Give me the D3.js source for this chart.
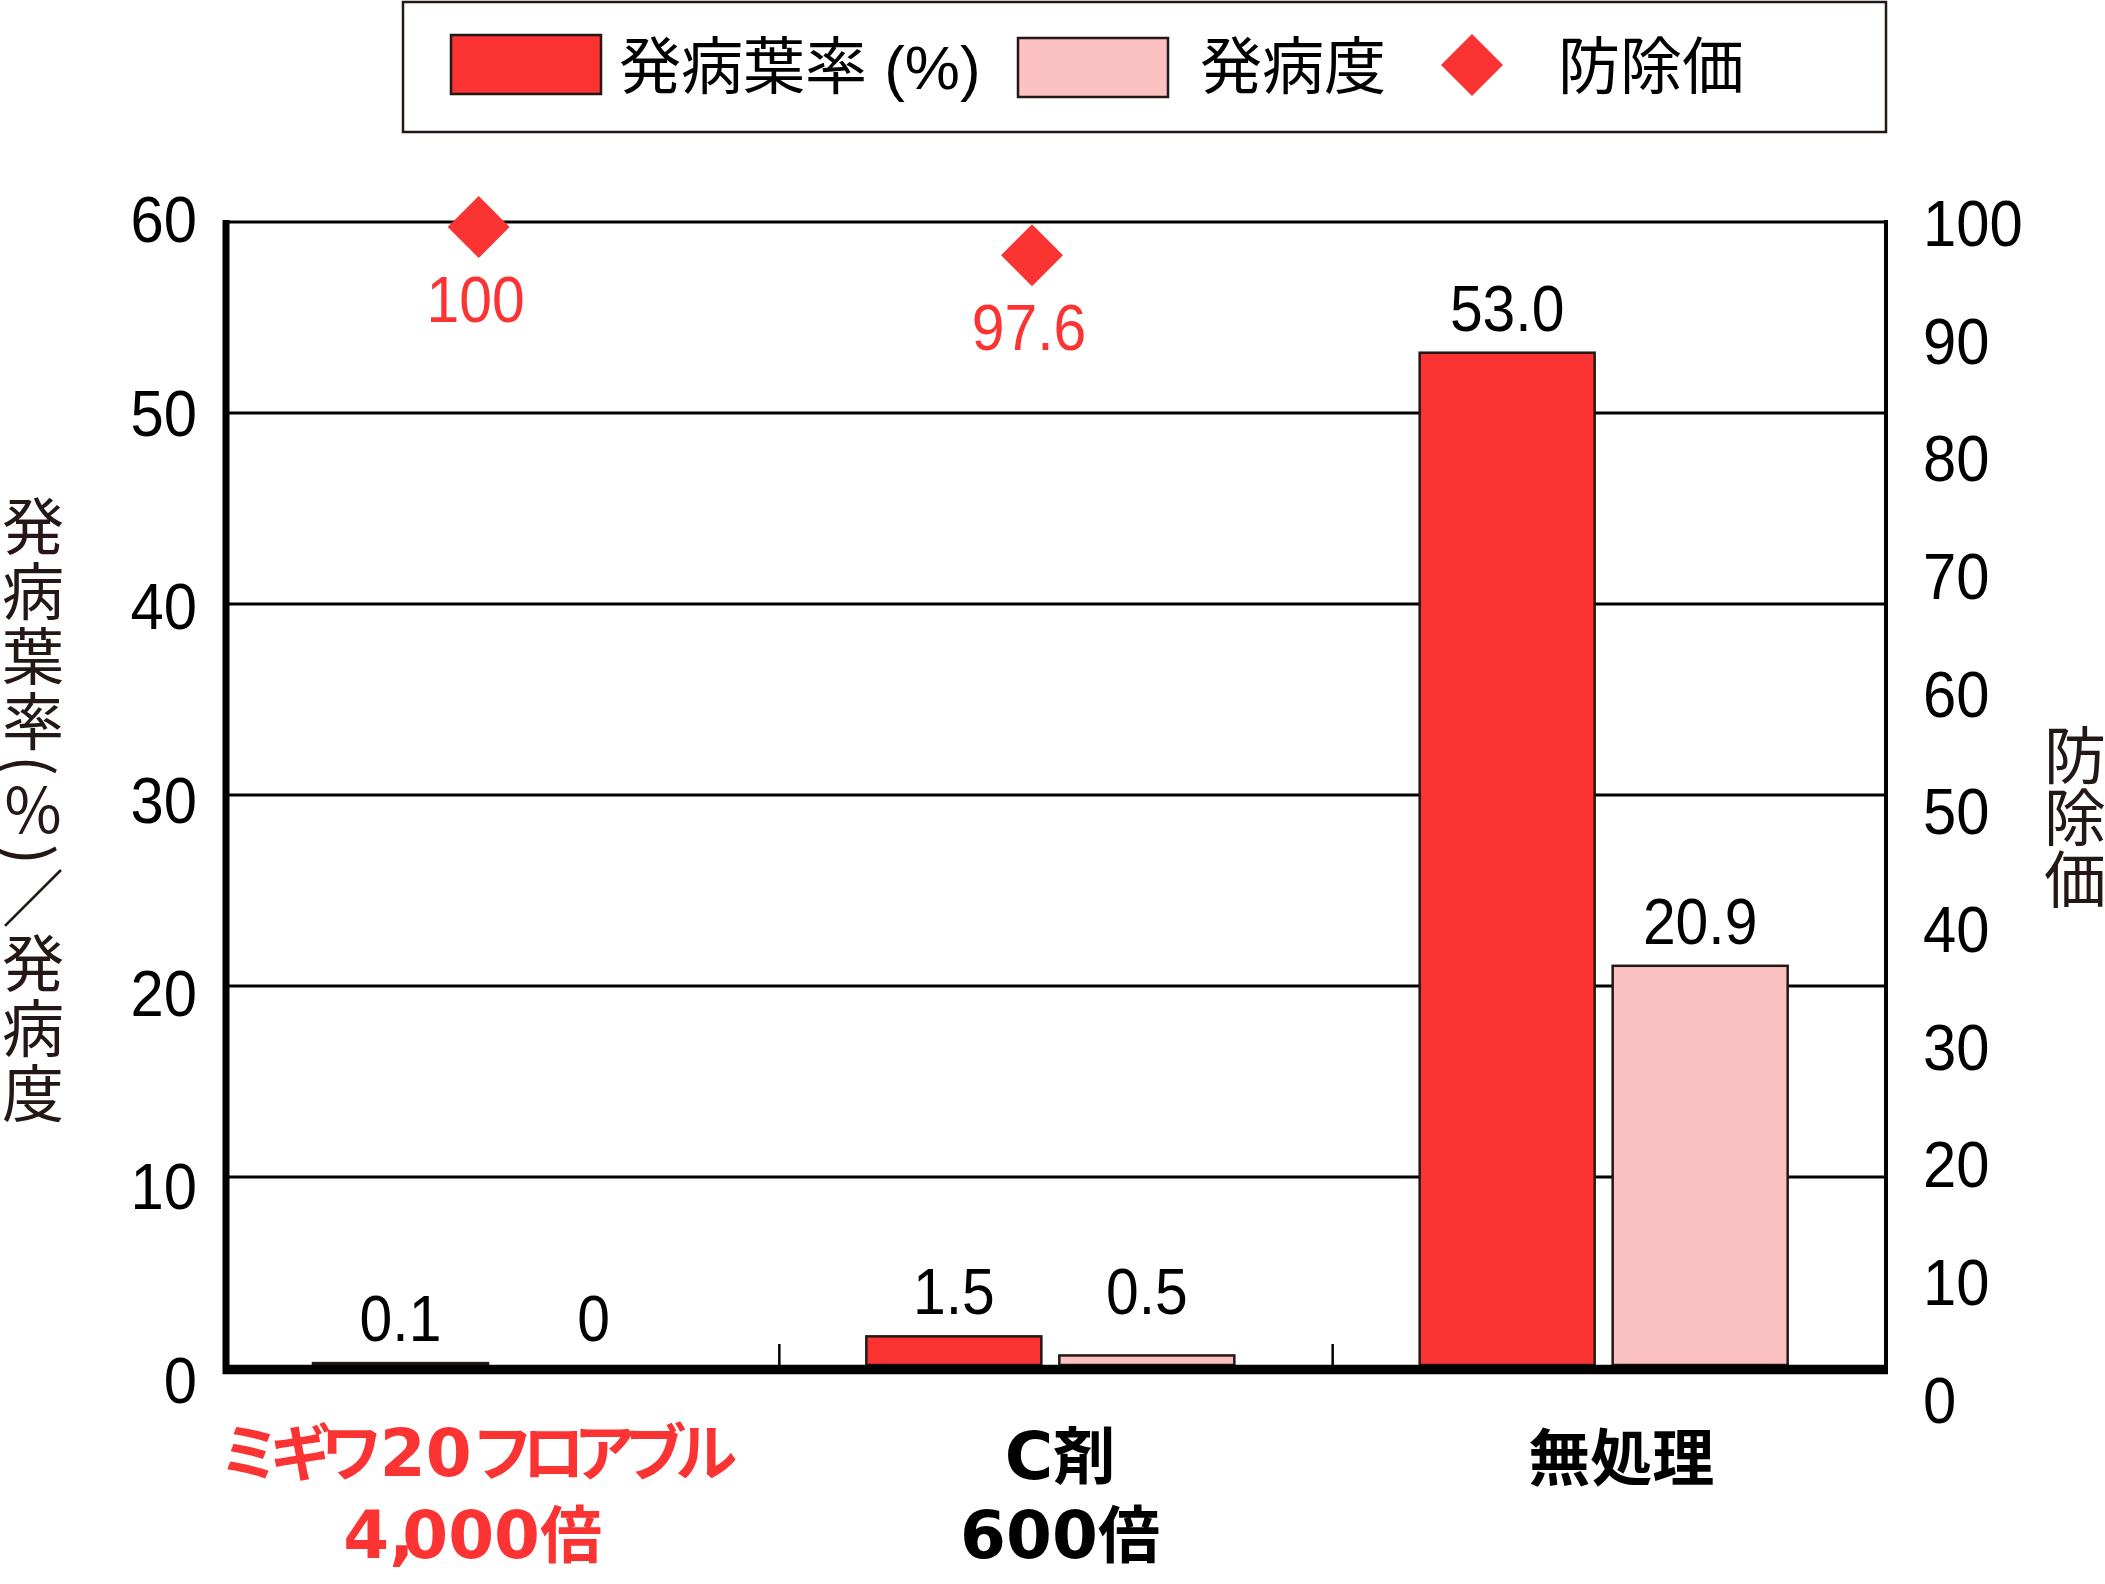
<!DOCTYPE html>
<html><head><meta charset="utf-8">
<script src="https://cdn.jsdelivr.net/npm/d3@7"></script>
<style>body{margin:0;background:#fff}svg{display:block}</style>
</head><body>
<svg id="chart" width="2105" height="1584"></svg>
<script>
// ---------------- data ----------------
const categories = ["ミギワ20フロアブル 4,000倍", "C剤 600倍", "無処理"];
const categoryLines = [["ミギワ20フロアブル", "4,000倍"], ["C剤", "600倍"], ["無処理"]];
const seriesNames = ["発病葉率 (%)", "発病度"];
const incidence = [0.1, 1.5, 53.0];
const severity = [0, 0.5, 20.9];
const incidenceLabels = ["0.1", "1.5", "53.0"];
const severityLabels = ["0", "0.5", "20.9"];
const controlValue = [100, 97.6];
const controlLabels = ["100", "97.6"];
const controlName = "防除価";
const leftTicks = [0, 10, 20, 30, 40, 50, 60];
const rightTicks = [0, 10, 20, 30, 40, 50, 60, 70, 80, 90, 100];
const leftTitle = "発病葉率(％)／発病度";
const rightTitle = "防除価";

// ---------------- style ----------------
const RED = "#FC3333", PINK = "#FCC1C1", INK = "#231815";
const NUM = "'Liberation Sans', Arial, sans-serif";
const WIDE = "'DejaVu Sans', 'Liberation Sans', sans-serif";
const JP = "'Liberation Sans', 'Noto Sans CJK JP', sans-serif";
const CJK = "'Noto Sans CJK JP', sans-serif";
const catColors = [RED, "#000", "#000"];
const catDx = [-30, 4, 12];
const catY = [[1476, 1558], [1479, 1558], [1481]];

const svg = d3.select("#chart");
const X0 = 226, X1 = 1886;
const x = d3.scaleBand(categories, [X0, X1]);
const xs = d3.scaleBand(seriesNames, [87, 455]).paddingInner(18 / 193);
const yL = d3.scaleLinear([0, 60], [1368, 222]);
const yLabL = d3.scaleLinear([0, 60], [1380, 219.5]);
const yR = d3.scaleLinear([0, 100], [1400, 223]);

function num(g, tx, ty, str, opts = {}) {
  return g.append("text")
    .attr("transform", `translate(${tx},${ty}) scale(0.92,1)`)
    .attr("font-family", NUM)
    .attr("font-size", opts.size || 64)
    .attr("fill", opts.fill || "#000")
    .attr("text-anchor", opts.anchor || "middle")
    .attr("dominant-baseline", opts.baseline || "alphabetic")
    .text(str);
}

// ---------------- legend ----------------
const lg = svg.append("g");
lg.append("rect").attr("x", 403).attr("y", 2).attr("width", 1483).attr("height", 130)
  .attr("fill", "#fff").attr("stroke", INK).attr("stroke-width", 2.5);
lg.append("rect").attr("x", 451).attr("y", 35).attr("width", 150).attr("height", 59)
  .attr("fill", RED).attr("stroke", INK).attr("stroke-width", 2.5);
lg.append("text").attr("x", 619).attr("y", 89).attr("font-family", JP).attr("font-size", 62)
  .attr("fill", "#000").text(seriesNames[0]);
lg.append("rect").attr("x", 1018).attr("y", 38).attr("width", 150).attr("height", 59)
  .attr("fill", PINK).attr("stroke", INK).attr("stroke-width", 2.5);
lg.append("text").attr("x", 1200).attr("y", 89).attr("font-family", JP).attr("font-size", 62)
  .attr("fill", "#000").text(seriesNames[1]);
const diamond = d3.symbol(d3.symbolSquare, 1920);
lg.append("path").attr("d", diamond()).attr("transform", "translate(1472,65) rotate(45)").attr("fill", RED);
lg.append("text").attr("x", 1558).attr("y", 89).attr("font-family", JP).attr("font-size", 62)
  .attr("fill", "#000").text(controlName);

// ---------------- grid ----------------
const grid = svg.append("g");
grid.selectAll("line").data(leftTicks.filter(d => d > 0)).join("line")
  .attr("x1", X0).attr("x2", X1).attr("y1", d => yL(d)).attr("y2", d => yL(d))
  .attr("stroke", "#000").attr("stroke-width", 3.2);

// ---------------- bars ----------------
const bars = svg.append("g");
const rows = [];
categories.forEach((c, i) => {
  const gmax = Math.max(incidence[i], severity[i]);
  rows.push({c, s: seriesNames[0], v: incidence[i], lab: incidenceLabels[i], fill: RED, gmax});
  rows.push({c, s: seriesNames[1], v: severity[i], lab: severityLabels[i], fill: PINK, gmax});
});
bars.selectAll("rect").data(rows).join("rect")
  .attr("x", d => x(d.c) + xs(d.s))
  .attr("width", xs.bandwidth())
  .attr("y", d => yL(d.v) - 3)
  .attr("height", d => yL(0) - yL(d.v))
  .attr("fill", d => d.fill)
  .attr("stroke", INK).attr("stroke-width", 2.5);

// ---------------- axes ----------------
const ax = svg.append("g");
ax.append("line").attr("x1", X0).attr("x2", X0).attr("y1", 220).attr("y2", 1374)
  .attr("stroke", "#000").attr("stroke-width", 7);
ax.append("line").attr("x1", X1).attr("x2", X1).attr("y1", 220).attr("y2", 1374)
  .attr("stroke", "#000").attr("stroke-width", 4);
ax.append("line").attr("x1", X0 - 3).attr("x2", X1 + 2).attr("y1", 1369.5).attr("y2", 1369.5)
  .attr("stroke", "#000").attr("stroke-width", 9.5);
ax.selectAll("line.cat").data(categories.slice(1)).join("line").attr("class", "cat")
  .attr("x1", d => x(d)).attr("x2", d => x(d)).attr("y1", 1344).attr("y2", 1366)
  .attr("stroke", "#000").attr("stroke-width", 2.5);

leftTicks.forEach(t => num(ax, 197, yLabL(t), String(t), {anchor: "end", baseline: "central", size: 65}));
rightTicks.forEach(t => num(ax, 1923, yR(t), String(t), {anchor: "start", baseline: "central", size: 65}));

// ---------------- value labels ----------------
const vl = svg.append("g");
rows.forEach(d => {
  const base = d.gmax < 5 ? d.gmax : d.v;
  num(vl, x(d.c) + xs(d.s) + xs.bandwidth() / 2, yL(base) - 25, d.lab);
});

// ---------------- control value diamonds ----------------
const dg = svg.append("g");
controlValue.forEach((v, i) => {
  const cx = x(categories[i]) + x.bandwidth() / 2 - 24;
  const cy = yR(v) + 4;
  dg.append("path").attr("d", diamond()).attr("transform", `translate(${cx},${cy}) rotate(45)`).attr("fill", RED);
  num(dg, cx - 3, cy + 95, controlLabels[i], {fill: RED});
});

// ---------------- category labels ----------------
const cl = svg.append("g");
const isAscii = ch => /[\x20-\x7e]/.test(ch);
const isKana = ch => /[\u30a0-\u30ff]/.test(ch);
function runs(str) {
  const out = [];
  for (const ch of str) {
    const k = isAscii(ch) ? (ch === "," ? "comma" : "ascii") : (isKana(ch) ? "kana" : "kanji");
    if (out.length && out[out.length - 1].k === k) out[out.length - 1].t += ch;
    else out.push({k, t: ch});
  }
  return out;
}
categoryLines.forEach((lines, i) => {
  const cx = x(categories[i]) + x.bandwidth() / 2 + catDx[i];
  const t = cl.append("text").attr("text-anchor", "middle").attr("font-weight", "bold").attr("fill", catColors[i]);
  lines.forEach((ln, k) => {
    const line = t.append("tspan").attr("x", cx).attr("y", catY[i][k]);
    let prev = null;
    runs(ln).forEach(r => {
      const ts = line.append("tspan").text(r.t);
      if (r.k === "ascii") ts.attr("font-family", WIDE).attr("font-size", 66);
      else if (r.k === "comma") ts.attr("font-family", WIDE).attr("font-size", 66).attr("letter-spacing", -12);
      else if (r.k === "kana") ts.attr("font-family", CJK).attr("font-size", 62).attr("letter-spacing", -11);
      else ts.attr("font-family", CJK).attr("font-size", 62);
      if (prev === "kana") ts.attr("dx", 8);
      prev = r.k;
    });
  });
});

// ---------------- axis titles ----------------
svg.append("text").attr("x", 33).attr("y", 495)
  .attr("style", "writing-mode: vertical-rl")
  .attr("font-family", CJK).attr("font-size", 62).attr("letter-spacing", 3)
  .attr("fill", INK).text(leftTitle);
svg.append("text").attr("x", 2075).attr("y", 724)
  .attr("style", "writing-mode: vertical-rl")
  .attr("font-family", CJK).attr("font-size", 62)
  .attr("fill", INK).text(rightTitle);
</script>
</body></html>
